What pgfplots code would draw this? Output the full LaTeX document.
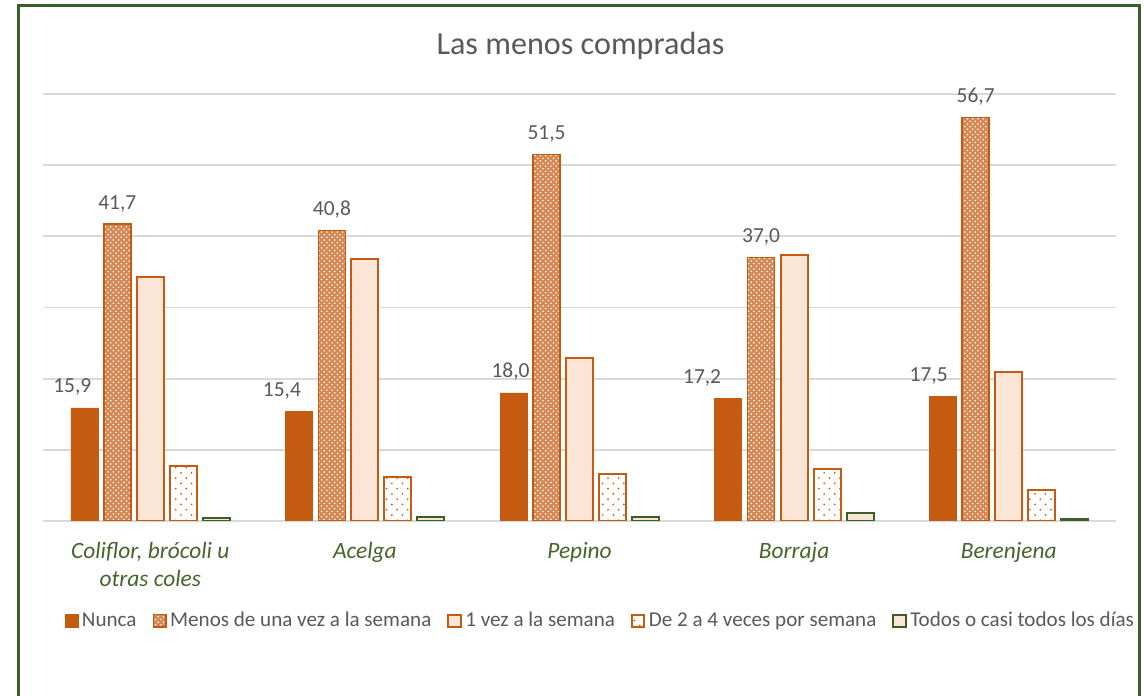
\documentclass[border=0pt]{standalone}
\usepackage{pgfplots}
\pgfplotsset{compat=1.18}
\usepackage{pgfplotstable}
\usepackage{fontspec}
\setmainfont{Carlito}
\usetikzlibrary{patterns}
\definecolor{c1}{HTML}{C55A11}
\definecolor{c1light}{HTML}{FBE5D6}
\definecolor{dg}{HTML}{3B5E29}
\definecolor{txt}{HTML}{595959}
\definecolor{gridc}{HTML}{D9D9D9}
\definecolor{lab}{HTML}{44652B}

\pgfdeclarepatternformonly{sparsedots}{\pgfqpoint{-1pt}{-1pt}}{\pgfqpoint{7pt}{7pt}}{\pgfqpoint{6pt}{6pt}}{\pgfpathcircle{\pgfqpoint{1pt}{1pt}}{0.55pt}\pgfusepath{fill}\pgfpathcircle{\pgfqpoint{4pt}{4pt}}{0.55pt}\pgfusepath{fill}}

\pgfplotstableread{
x nunca menos vez dos todos dx
0 15.9 41.7 34.3 7.7 0.4 -0.24
1 15.4 40.8 36.8 6.2 0.5 -0.34
2 18.0 51.5 22.9 6.6 0.6 -0.06
3 17.2 37.0 37.4 7.3 1.1 -0.52
4 17.5 56.7 20.9 4.3 0.3 -0.28
}\data

\begin{document}
\begin{tikzpicture}
\useasboundingbox (0,0) rectangle (22.9cm,13.92cm);
\draw[dg, line width=1.7pt] (0.37cm,-0.5cm) -- (0.37cm,13.8cm) -- (22.79cm,13.8cm) -- (22.79cm,-0.5cm);
\node[text=txt, font=\fontsize{18.3}{20}\selectfont, anchor=base] at (11.61cm,12.82cm) {Las menos compradas};
\begin{axis}[
 at={(0.86cm,3.5cm)}, anchor=south west,
 scale only axis, width=21.46cm, height=8.54cm,
 ybar=0.12cm, bar width=0.54cm,
 xmin=-0.5, xmax=4.5, ymin=0, ymax=60,
 xtick={0,1,2,3,4},
 xticklabels={{Coliflor, brócoli u\\otras coles},Acelga,Pepino,Borraja,Berenjena},
 xticklabel style={font=\fontsize{13.3}{16}\selectfont\itshape, text=lab, align=center, anchor=north, yshift=-0.3cm},
 ytick={0,10,...,60}, yticklabels={},
 ymajorgrids, grid style={gridc, line width=1.1pt},
 axis line style={draw=none},
 major tick length=0pt,
 tick style={draw=none},
 legend image code/.code={\draw[#1] (0cm,-0.125cm) rectangle (0.25cm,0.125cm);},
 legend columns=5,
 legend style={draw=none, fill=none, at={(0.5205,-0.234)}, anchor=center, font=\fontsize{12}{14}\selectfont, text=txt, /tikz/every even column/.append style={column sep=0.25cm}},
 every node near coord/.append style={anchor=base, yshift=0.3cm, font=\fontsize{12.2}{14}\selectfont, text=txt},
 /pgf/number format/.cd, fixed, fixed zerofill, precision=1, use comma, assume math mode=true,
]
\addplot[fill=c1, draw=c1, line width=0.3pt, nodes near coords, visualization depends on={\thisrow{dx}\as\dx}, every node near coord/.append style={xshift={\dx*1cm}}] table[x=x,y=nunca]{\data};
\addplot[fill=c1!72!white, draw=c1, line width=0.9pt, postaction={pattern=crosshatch dots, pattern color=white}, nodes near coords] table[x=x,y=menos]{\data};
\addplot[fill=c1light, draw=c1, line width=1.1pt] table[x=x,y=vez]{\data};
\addplot[fill=white, draw=c1, line width=1.1pt, postaction={pattern=sparsedots, pattern color=c1}] table[x=x,y=dos]{\data};
\addplot[fill=c1light, draw=dg, line width=1.1pt] table[x=x,y=todos]{\data};
\legend{Nunca, Menos de una vez a la semana, 1 vez a la semana, De 2 a 4 veces por semana, Todos o casi todos los días}
\end{axis}
\end{tikzpicture}
\end{document}
